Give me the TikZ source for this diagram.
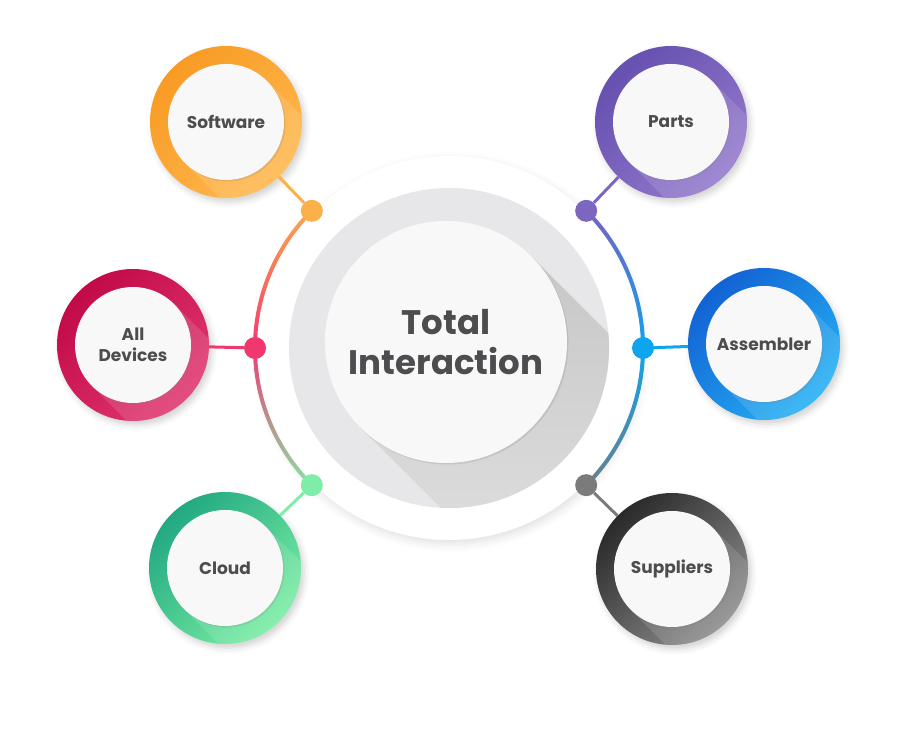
\documentclass[tikz,border=0pt]{standalone}
\usepackage{fontspec}
\setmainfont{Poppins}
\usetikzlibrary{positioning,shadows,shadows.blur}

\definecolor{txt}{HTML}{4D4D4F}
\definecolor{hubgrey}{HTML}{E7E7E9}
\definecolor{discwhite}{HTML}{F8F8F9}
\definecolor{orangeA}{HTML}{F89B25}
\definecolor{orangeB}{HTML}{FFB84D}
\definecolor{orangeD}{HTML}{FBB04A}
\definecolor{purpleA}{HTML}{6650B0}
\definecolor{purpleB}{HTML}{9379CC}
\definecolor{purpleD}{HTML}{7C66BF}
\definecolor{crimsonA}{HTML}{C20A48}
\definecolor{crimsonB}{HTML}{E03670}
\definecolor{crimsonD}{HTML}{F0386F}
\definecolor{blueA}{HTML}{1262D4}
\definecolor{blueB}{HTML}{24B0F4}
\definecolor{blueD}{HTML}{0EA5EE}
\definecolor{greenA}{HTML}{22A882}
\definecolor{greenB}{HTML}{78EDA2}
\definecolor{greenD}{HTML}{7DEDA9}
\definecolor{greyA}{HTML}{2A2A2A}
\definecolor{greyB}{HTML}{8C8C8C}
\definecolor{greyD}{HTML}{7B7B7B}
\definecolor{arcTop}{HTML}{FDA74A}
\definecolor{arcMid}{HTML}{F23A72}
\definecolor{arcBot}{HTML}{86E3A5}
\definecolor{arcTopR}{HTML}{7563C0}
\definecolor{arcMidR}{HTML}{10A3EE}
\definecolor{arcBotR}{HTML}{6A7F8C}

\begin{document}
\begin{tikzpicture}[x=1pt, y=1pt,
    ring/.style={circle, minimum size=152pt, inner sep=0pt, top color=#1A, bottom color=#1B, shading angle=45,
      blur shadow={shadow xshift=3pt, shadow yshift=-4pt, shadow opacity=18, shadow blur radius=6pt}},
    disc/.style={circle, minimum size=116pt, inner sep=0pt, fill=discwhite, text=txt, align=center,
      font=\fontsize{17}{21}\selectfont\bfseries,
      drop shadow={shadow xshift=1.5pt, shadow yshift=-1.5pt, opacity=.2}},
    dot/.style={circle, minimum size=22pt, inner sep=0pt, fill=#1},
    link/.style={draw=#1, line width=3pt}]

\useasboundingbox (0,0) rectangle (900,747);

% hub
\node[circle, minimum size=384pt, inner sep=0pt, fill=white,
  blur shadow={shadow xshift=2pt, shadow yshift=-4pt, shadow opacity=12, shadow blur radius=8pt}] (hub) at (449,399) {};
\node[circle, minimum size=320pt, inner sep=0pt, fill=hubgrey] (well) at (449,399) {};
\coordinate (tc) at (446,405);
\begin{scope}
  \clip (well) circle[radius=160];
  \shade[top color=black!22, bottom color=hubgrey] ([shift={(45:121)}]tc) -- ++(-45:330) -- ++(-135:242) -- ([shift={(225:121)}]tc) -- cycle;
\end{scope}
\node[disc, minimum size=242pt, font=\fontsize{34}{40}\selectfont\bfseries] (total) at (tc) {Total\\Interaction};

% arcs
\begin{scope}[shift={(449,399)}]
  \shade[top color=arcTop, bottom color=arcBot, middle color=arcMid] (135:196) arc[start angle=135, end angle=225, radius=196] -- (225:192) arc[start angle=225, end angle=135, radius=192] -- cycle;
  \shade[top color=arcTopR, bottom color=arcBotR, middle color=arcMidR] (45:196) arc[start angle=45, end angle=-45, radius=196] -- (-45:192) arc[start angle=-45, end angle=45, radius=192] -- cycle;
\end{scope}

% dots on the arc
\node[dot=orangeD] (dsoft) at ([shift={(135:194)}]hub.center) {};
\node[dot=crimsonD] (ddev) at ([shift={(180:194)}]hub.center) {};
\node[dot=greenD] (dcloud) at ([shift={(225:194)}]hub.center) {};
\node[dot=purpleD] (dparts) at ([shift={(45:194)}]hub.center) {};
\node[dot=blueD] (dasm) at ([shift={(0:194)}]hub.center) {};
\node[dot=greyD] (dsup) at ([shift={(-45:194)}]hub.center) {};

% rings
\node[ring=orange] (softring) at (226,625) {};
\node[ring=purple] (partsring) at (671,625) {};
\node[ring=crimson] (devring) at (133,402) {};
\node[ring=blue] (asmring) at (764,403) {};
\node[ring=green] (cloudring) at (225,179) {};
\node[ring=grey] (supring) at (672,178) {};

\foreach \r in {softring,partsring,devring,asmring,cloudring,supring}{
  \begin{scope}
    \clip (\r) circle[radius=76];
    \fill[white, opacity=.12] ([shift={(45:58)}]\r.center) -- ++(-45:160) -- ++(-135:116) -- ([shift={(225:58)}]\r.center) -- cycle;
  \end{scope}
}

% connectors
\draw[link=orangeD] (dsoft) -- (softring);
\draw[link=crimsonD] (ddev) -- (devring);
\draw[link=greenD] (dcloud) -- (cloudring);
\draw[link=purpleD] (dparts) -- (partsring);
\draw[link=blueD] (dasm) -- (asmring);
\draw[link=greyD] (dsup) -- (supring);

% labels
\node[disc] (soft) at (softring) {Software};
\node[disc] (parts) at (partsring) {Parts};
\node[disc] (dev) at (devring) {All\\Devices};
\node[disc] (asm) at (asmring) {Assembler};
\node[disc] (cloud) at (cloudring) {Cloud};
\node[disc] (sup) at (supring) {Suppliers};
\end{tikzpicture}
\end{document}
